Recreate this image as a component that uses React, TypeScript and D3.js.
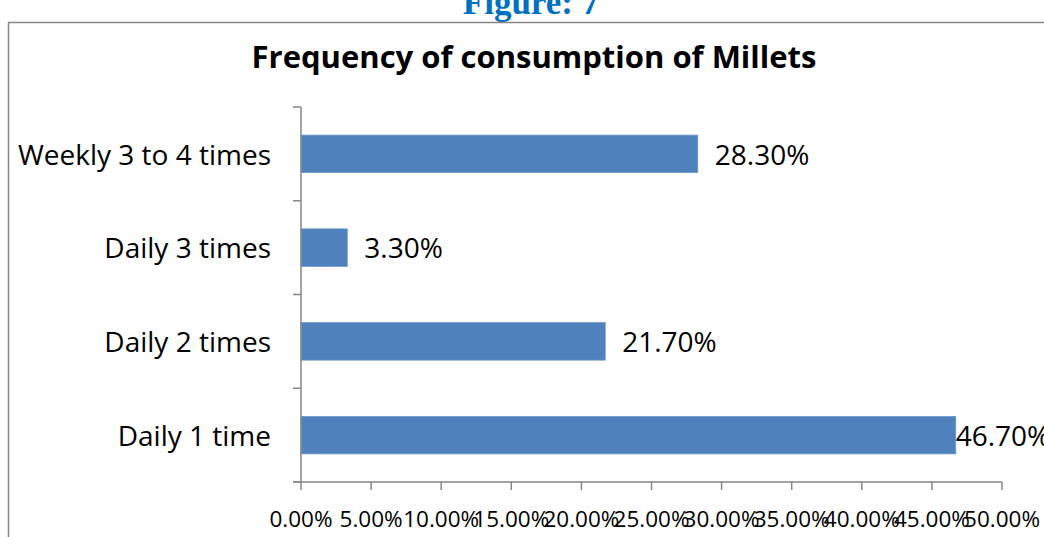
import React from "react";
import * as d3 from "d3";

// Frequency of consumption of millets (share of respondents)
const categories = ["Weekly 3 to 4 times", "Daily 3 times", "Daily 2 times", "Daily 1 time"];
const values = [28.3, 3.3, 21.7, 46.7];
const tickValues = [0, 5, 10, 15, 20, 25, 30, 35, 40, 45, 50];

const W = 1044;
const H = 537;
const plot = { left: 301, right: 1002, top: 107, bottom: 482 };
const BAR = "#4F81BD";
const AXIS = "#868686";
const FONT = "'Open Sans', Lato, sans-serif";

export default function App() {
  const x = d3.scaleLinear().domain([0, 50]).range([plot.left, plot.right]);
  const y = d3
    .scaleBand<string>()
    .domain(categories)
    .range([plot.top, plot.bottom])
    .paddingInner(0.6)
    .paddingOuter(0.3);
  const step = y.step();
  const bounds = d3.range(categories.length + 1).map((i) => plot.top + i * step);
  const fmt = (v: number) => v.toFixed(2) + "%";

  return (
    <svg
      width={W}
      height={H}
      style={{ position: "absolute", left: 0, top: 0, background: "#fff" }}
    >
      {/* caption above the chart frame */}
      <text
        x={531}
        y={14}
        textAnchor="middle"
        fontFamily="'Liberation Serif', 'Times New Roman', serif"
        fontWeight="bold"
        fontSize={35}
        fill="#0070C0"
      >
        Figure: 7
      </text>

      {/* chart frame */}
      <rect x={8.5} y={22.5} width={1100} height={600} fill="#fff" stroke="#868686" strokeWidth={1.5} />

      <text
        x={534}
        y={68}
        textAnchor="middle"
        fontFamily={FONT}
        fontWeight="bold"
        fontSize={31}
        fill="#000"
      >
        Frequency of consumption of Millets
      </text>

      {/* bars */}
      {categories.map((c, i) => (
        <rect
          key={c}
          x={x(0)}
          y={y(c)!}
          width={x(values[i]) - x(0)}
          height={y.bandwidth()}
          fill={BAR}
          stroke="#6d98cc"
          strokeWidth={0.8}
        />
      ))}

      {/* value labels; the widest bar keeps its label against the bar end */}
      {categories.map((c, i) => {
        const end = x(values[i]);
        const lx = values[i] > 40 ? end : end + 17;
        return (
          <text
            key={c}
            x={lx}
            y={y(c)! + y.bandwidth() / 2}
            dy="0.38em"
            fontFamily={FONT}
            fontSize={28}
            fill="#000"
          >
            {fmt(values[i])}
          </text>
        );
      })}

      {/* category axis */}
      <line x1={plot.left} x2={plot.left} y1={plot.top} y2={plot.bottom} stroke={AXIS} strokeWidth={1.5} />
      {bounds.map((b, i) => (
        <line key={i} x1={plot.left - 8} x2={plot.left} y1={b} y2={b} stroke={AXIS} strokeWidth={1.5} />
      ))}
      {categories.map((c) => (
        <text
          key={c}
          x={271}
          y={y(c)! + y.bandwidth() / 2}
          dy="0.38em"
          textAnchor="end"
          fontFamily={FONT}
          fontSize={28}
          fill="#000"
        >
          {c}
        </text>
      ))}

      {/* value axis */}
      <line x1={plot.left - 8} x2={plot.right} y1={plot.bottom} y2={plot.bottom} stroke={AXIS} strokeWidth={1.5} />
      {tickValues.map((t) => (
        <g key={t} transform={`translate(${x(t)},0)`}>
          <line y1={plot.bottom} y2={plot.bottom + 8} stroke={AXIS} strokeWidth={1.5} />
          <text
            y={plot.bottom + 45}
            textAnchor="middle"
            fontFamily={FONT}
            fontSize={22.5}
            fill="#000"
          >
            {fmt(t)}
          </text>
        </g>
      ))}
    </svg>
  );
}
